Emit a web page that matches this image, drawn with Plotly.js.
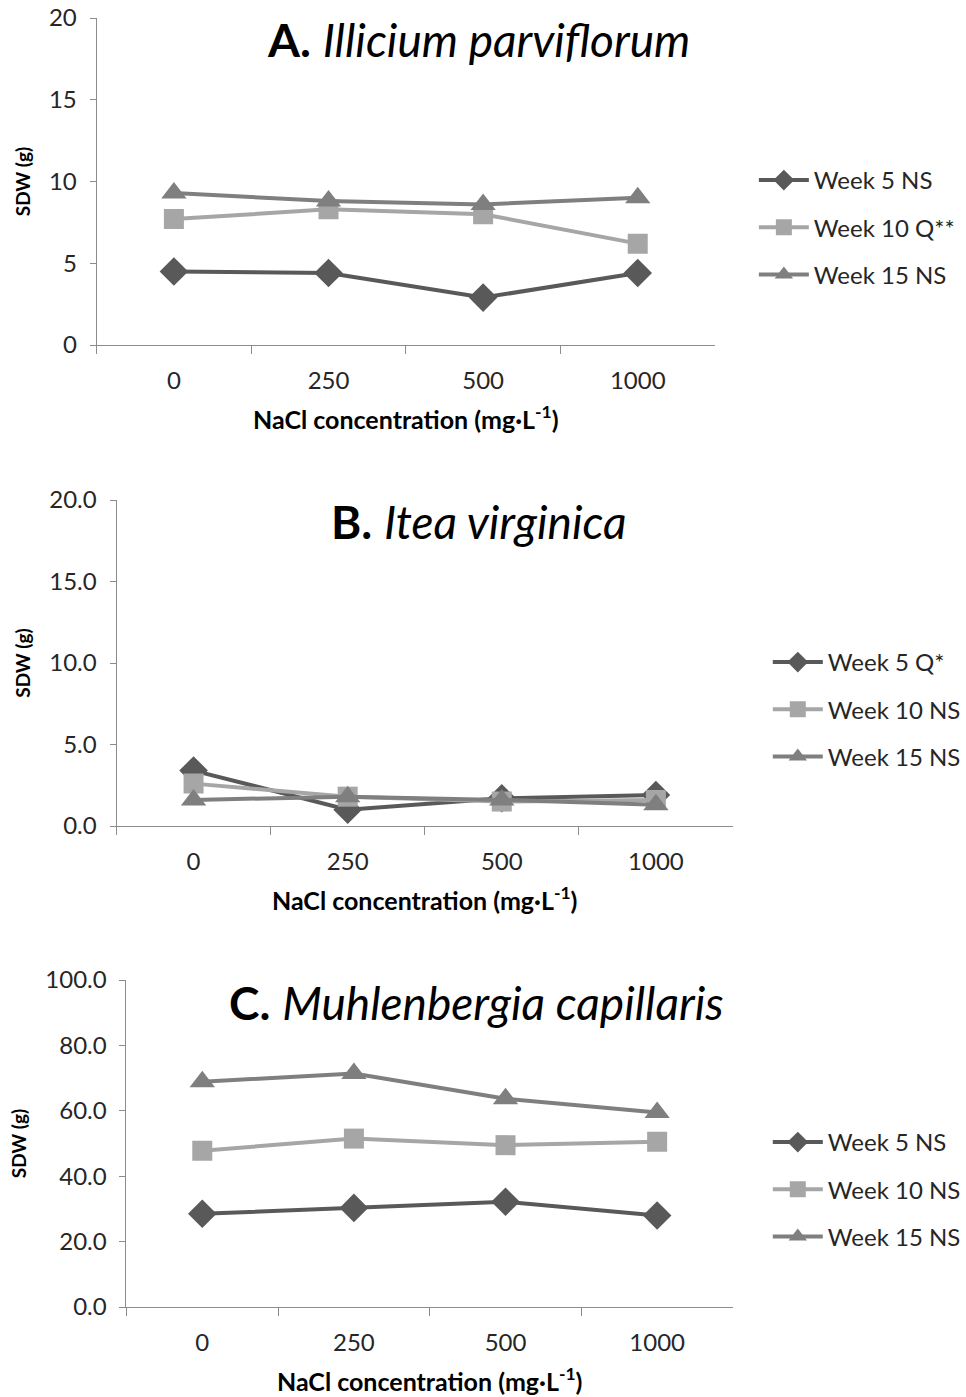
<!DOCTYPE html>
<html>
<head>
<meta charset="utf-8">
<script src="https://cdn.plot.ly/plotly-3.0.1.min.js"></script>
<style>html,body{margin:0;padding:0;background:#fff;}#chart{width:966px;height:1397px;}</style>
</head>
<body>
<div id="chart"></div>
<script>
// Categories (NaCl concentration, mg·L-1)
const categories = ['0', '250', '500', '1000'];

// Panel A: Illicium parviflorum
const titleA = '<b>A.</b> <i>Illicium parviflorum</i>';
const namesA = ['Week 5 NS', 'Week 10 Q**', 'Week 15 NS'];
const a_week5 = [4.5, 4.4, 2.9, 4.4];
const a_week10 = [7.7, 8.3, 8.0, 6.2];
const a_week15 = [9.3, 8.8, 8.6, 9.0];
const ticksA = [0, 5, 10, 15, 20];

// Panel B: Itea virginica
const titleB = '<b>B.</b> <i>Itea virginica</i>';
const namesB = ['Week 5 Q*', 'Week 10 NS', 'Week 15 NS'];
const b_week5 = [3.4, 1.0, 1.7, 1.9];
const b_week10 = [2.6, 1.8, 1.5, 1.6];
const b_week15 = [1.6, 1.8, 1.6, 1.3];
const ticksB = [0, 5, 10, 15, 20];

// Panel C: Muhlenbergia capillaris
const titleC = '<b>C.</b> <i>Muhlenbergia capillaris</i>';
const namesC = ['Week 5 NS', 'Week 10 NS', 'Week 15 NS'];
const c_week5 = [28.5, 30.3, 32.2, 28.0];
const c_week10 = [47.8, 51.5, 49.5, 50.5];
const c_week15 = [68.9, 71.4, 63.7, 59.5];
const ticksC = [0, 20, 40, 60, 80, 100];

const xTitle = 'NaCl concentration (mg·L<sup>-1</sup>)';
const yTitle = 'SDW (g)';

const FONT = 'Lato, "Open Sans", sans-serif';
const colors = ['#595959', '#A6A6A6', '#7F7F7F'];
const symbols = ['diamond', 'square', 'triangle-up'];
const sizes = [22, 20, 22];
const axisColor = '#8C8C8C';

function series(vals, i, name, ax, legend, grp) {
  return {
    x: categories, y: vals, name: name, type: 'scatter', mode: 'lines+markers',
    xaxis: ax[0], yaxis: ax[1], legend: legend, legendgroup: grp,
    line: {color: colors[i], width: 4},
    marker: {symbol: symbols[i], color: colors[i], size: sizes[i], line: {width: 0}}
  };
}

const data = [
  series(a_week5, 0, namesA[0], ['x', 'y'], 'legend', 'a0'),
  series(a_week10, 1, namesA[1], ['x', 'y'], 'legend', 'a1'),
  series(a_week15, 2, namesA[2], ['x', 'y'], 'legend', 'a2'),
  series(b_week5, 0, namesB[0], ['x2', 'y2'], 'legend2', 'b0'),
  series(b_week10, 1, namesB[1], ['x2', 'y2'], 'legend2', 'b1'),
  series(b_week15, 2, namesB[2], ['x2', 'y2'], 'legend2', 'b2'),
  series(c_week5, 0, namesC[0], ['x3', 'y3'], 'legend3', 'c0'),
  series(c_week10, 1, namesC[1], ['x3', 'y3'], 'legend3', 'c1'),
  series(c_week15, 2, namesC[2], ['x3', 'y3'], 'legend3', 'c2')
];

const W = 966, H = 1397;
function px(x) { return x / W; }
function py(y) { return 1 - y / H; }

function xaxis(x0, x1, anchor) {
  return {
    domain: [px(x0), px(x1)], anchor: anchor, type: 'category',
    range: [-0.5, 3.5], tickson: 'boundaries', ticks: 'outside', ticklen: 8,
    tickcolor: axisColor, tickwidth: 1, showline: true, linecolor: axisColor, linewidth: 1,
    showgrid: false, zeroline: false, ticklabelstandoff: 14,
    tickfont: {family: FONT, size: 24, color: '#262626'},
    title: {text: xTitle, font: {family: FONT, size: 25, color: '#000', weight: 'bold'}, standoff: 18}
  };
}
function yaxis(y0, y1, anchor, ticks, fmt) {
  return {
    domain: [py(y0), py(y1)], anchor: anchor,
    range: [ticks[0], ticks[ticks.length - 1]], tickvals: ticks, tickformat: fmt,
    ticks: 'outside', ticklen: 6, tickcolor: axisColor, tickwidth: 1,
    showline: true, linecolor: axisColor, linewidth: 1, showgrid: false, zeroline: false,
    ticklabelstandoff: 8,
    tickfont: {family: FONT, size: 24, color: '#262626'},
    title: {text: yTitle, font: {family: FONT, size: 19, color: '#000', weight: 'bold'}, standoff: 13}
  };
}
function legend(x, y) {
  return {
    x: px(x), y: py(y), xanchor: 'left', yanchor: 'top', xref: 'paper', yref: 'paper',
    bgcolor: 'rgba(0,0,0,0)', borderwidth: 0, tracegroupgap: 13, itemwidth: 50,
    font: {family: FONT, size: 24, color: '#262626'}
  };
}

const layout = {
  width: W, height: H, margin: {l: 0, r: 0, t: 0, b: 0},
  paper_bgcolor: '#fff', plot_bgcolor: '#fff', showlegend: true,
  xaxis: xaxis(97, 718, 'y'),
  yaxis: yaxis(345, 18, 'x', ticksA, 'd'),
  xaxis2: xaxis(117, 736, 'y2'),
  yaxis2: yaxis(826, 500, 'x2', ticksB, '.1f'),
  xaxis3: xaxis(127, 736, 'y3'),
  yaxis3: yaxis(1307, 980, 'x3', ticksC, '.1f'),
  legend: legend(757, 158),
  legend2: legend(771, 640),
  legend3: legend(771, 1120),
  annotations: [
    {text: titleA, x: px(480), y: py(40), xref: 'paper', yref: 'paper', showarrow: false,
     xanchor: 'center', yanchor: 'middle', font: {family: FONT, size: 46, color: '#000'}},
    {text: titleB, x: px(481), y: py(522), xref: 'paper', yref: 'paper', showarrow: false,
     xanchor: 'center', yanchor: 'middle', font: {family: FONT, size: 46, color: '#000'}},
    {text: titleC, x: px(478), y: py(1002), xref: 'paper', yref: 'paper', showarrow: false,
     xanchor: 'center', yanchor: 'middle', font: {family: FONT, size: 46, color: '#000'}}
  ]
};

Plotly.newPlot('chart', data, layout, {displayModeBar: false, responsive: false});
</script>
</body>
</html>
